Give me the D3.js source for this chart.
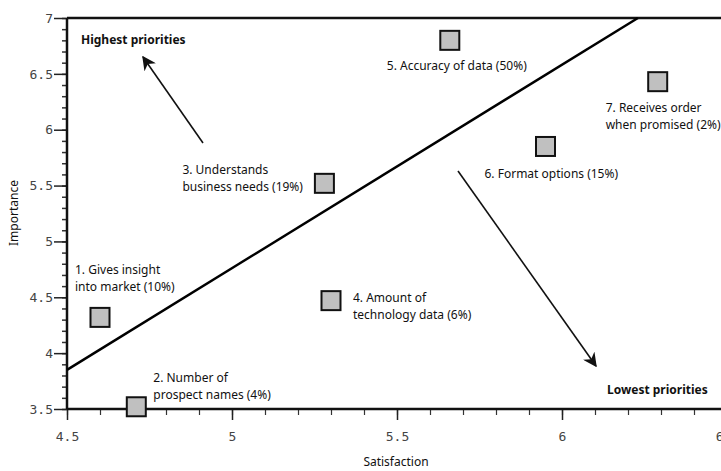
<!DOCTYPE html>
<html>
<head>
<meta charset="utf-8">
<script src="https://cdn.jsdelivr.net/npm/d3@7"></script>
<style>
  html, body { margin: 0; padding: 0; background: #fff; }
  svg { display: block; }
  .lbl { font-family: "Noto Sans", "Open Sans", sans-serif; font-size: 12px; fill: #111; }
  .tick text { font-family: "DejaVu Sans Mono", "Liberation Mono", monospace; font-size: 13px; fill: #444; }
</style>
</head>
<body>
<script>
// ---- data ----
const itemLabels = [
  ["1. Gives insight", "into market (10%)"],
  ["2. Number of", "prospect names (4%)"],
  ["3. Understands", "business needs (19%)"],
  ["4. Amount of", "technology data (6%)"],
  ["5. Accuracy of data (50%)"],
  ["6. Format options (15%)"],
  ["7. Receives order", "when promised (2%)"]
];
const satisfaction = [4.60, 4.71, 5.28, 5.30, 5.66, 5.95, 6.29];
const importance   = [4.32, 3.52, 5.52, 4.47, 6.80, 5.85, 6.43];
const xTicks = [4.5, 5, 5.5, 6, 6.5];
const yTicks = [3.5, 4, 4.5, 5, 5.5, 6, 6.5, 7];
const dividerX = [4.5, 6.23];
const dividerY = [3.85, 7.0];
const xTitle = "Satisfaction";
const yTitle = "Importance";
const highText = "Highest priorities";
const lowText = "Lowest priorities";

// ---- layout (not data) ----
const W = 721, H = 471;
const labelOffsets = [[-25, -43], [17, -25], [-142, -9], [22, 1], [-63, 30], [-61, 32], [-52, 30]];

const svg = d3.select("body").append("svg").attr("width", W).attr("height", H);

const x = d3.scaleLinear().domain([4.5, 6.5]).range([67, 727]);
const y = d3.scaleLinear().domain([3.5, 7]).range([409, 18]);

// arrow marker
svg.append("defs").append("marker")
  .attr("id", "ah").attr("viewBox", "0 0 10 10")
  .attr("refX", 9).attr("refY", 5)
  .attr("markerWidth", 14).attr("markerHeight", 14)
  .attr("markerUnits", "userSpaceOnUse")
  .attr("orient", "auto")
  .append("path").attr("d", "M0,0 L10,5 L0,10 L3,5 Z").attr("fill", "#111");

// x axis: minor ticks
const xMinor = d3.range(45, 66).map(d => d / 10);
const yMinor = d3.range(35, 71).map(d => d / 10);

const xAxisG = svg.append("g").attr("transform", `translate(0,${y(3.5)})`);
xAxisG.append("g")
  .call(d3.axisBottom(x).tickValues(xMinor).tickSize(6).tickFormat(""))
  .call(g => g.select(".domain").remove())
  .selectAll("line").attr("stroke", "#333").attr("stroke-width", 1.2);
xAxisG.append("g")
  .call(d3.axisBottom(x).tickValues(xTicks).tickSize(11).tickPadding(12).tickFormat(d3.format("")))
  .call(g => g.select(".domain").remove())
  .selectAll("line").attr("stroke", "#222").attr("stroke-width", 1.5);
xAxisG.append("line").attr("x1", x(4.5)).attr("x2", W).attr("y1", 0).attr("y2", 0)
  .attr("stroke", "#111").attr("stroke-width", 2.5);

const yAxisG = svg.append("g").attr("transform", `translate(${x(4.5)},0)`);
yAxisG.append("g")
  .call(d3.axisLeft(y).tickValues(yMinor).tickSize(5).tickFormat(""))
  .call(g => g.select(".domain").remove())
  .selectAll("line").attr("stroke", "#333").attr("stroke-width", 1.5);
yAxisG.append("g")
  .call(d3.axisLeft(y).tickValues(yTicks).tickSize(13).tickPadding(1).tickFormat(d3.format("")))
  .call(g => g.select(".domain").remove())
  .selectAll("line").attr("stroke", "#222").attr("stroke-width", 1.5);
yAxisG.append("line").attr("x1", 0).attr("x2", 0).attr("y1", y(7)).attr("y2", y(3.5))
  .attr("stroke", "#111").attr("stroke-width", 2.5);

// top frame
svg.append("line").attr("x1", x(4.5)).attr("x2", W).attr("y1", y(7)).attr("y2", y(7))
  .attr("stroke", "#111").attr("stroke-width", 2.5);

// axis titles
svg.append("text").attr("class", "lbl").attr("x", 396).attr("y", 466)
  .attr("text-anchor", "middle").text(xTitle);
svg.append("text").attr("class", "lbl")
  .attr("transform", "translate(18,213) rotate(-90)")
  .attr("text-anchor", "middle").text(yTitle);

// divider line
svg.append("line")
  .attr("x1", x(dividerX[0])).attr("y1", y(dividerY[0]))
  .attr("x2", x(dividerX[1])).attr("y2", y(dividerY[1]))
  .attr("stroke", "#000").attr("stroke-width", 2.5);

// arrows
svg.append("line").attr("x1", 203).attr("y1", 143).attr("x2", 143).attr("y2", 57)
  .attr("stroke", "#111").attr("stroke-width", 1.6).attr("marker-end", "url(#ah)");
svg.append("line").attr("x1", 458).attr("y1", 171).attr("x2", 596).attr("y2", 366)
  .attr("stroke", "#111").attr("stroke-width", 1.6).attr("marker-end", "url(#ah)");

svg.append("text").attr("class", "lbl").attr("x", 81).attr("y", 44)
  .attr("font-weight", "bold").text(highText);
svg.append("text").attr("class", "lbl").attr("x", 607).attr("y", 394)
  .attr("font-weight", "bold").text(lowText);

// points
const pts = satisfaction.map((s, i) => ({ s, imp: importance[i], lines: itemLabels[i], off: labelOffsets[i] }));
const sq = 19;
svg.append("g").selectAll("rect").data(pts).join("rect")
  .attr("x", d => x(d.s) - sq / 2).attr("y", d => y(d.imp) - sq / 2)
  .attr("width", sq).attr("height", sq)
  .attr("fill", "#c0c0c0").attr("stroke", "#111").attr("stroke-width", 2);

const lg = svg.append("g").selectAll("text").data(pts).join("text")
  .attr("class", "lbl")
  .attr("x", d => x(d.s) + d.off[0]).attr("y", d => y(d.imp) + d.off[1]);
lg.each(function (d) {
  const t = d3.select(this);
  d.lines.forEach((ln, j) => {
    t.append("tspan").attr("x", x(d.s) + d.off[0]).attr("dy", j === 0 ? 0 : 17).text(ln);
  });
});
</script>
</body>
</html>
